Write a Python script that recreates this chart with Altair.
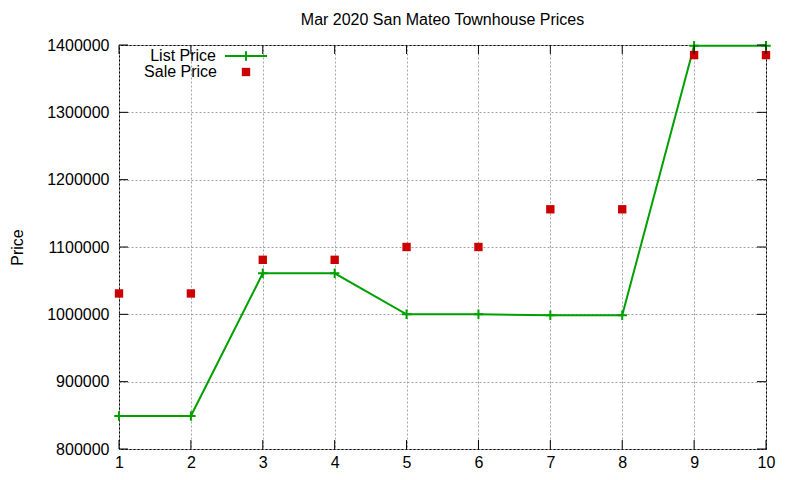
import altair as alt
import pandas as pd

# Townhouse prices, March 2020, San Mateo
idx = [1, 2, 3, 4, 5, 6, 7, 8, 9, 10]
list_price = [849000, 849000, 1061000, 1061000, 1000000, 1000000, 998500, 998500, 1399000, 1399000]
sale_price = [1031000, 1031000, 1081000, 1081000, 1100000, 1100000, 1156000, 1156000, 1385000, 1385000]

x_ticks = [1, 2, 3, 4, 5, 6, 7, 8, 9, 10]
y_ticks = [800000, 900000, 1000000, 1100000, 1200000, 1300000, 1400000]

legend_names = ['List Price', 'Sale Price']

GREEN = '#00a000'
RED = '#cc0000'
FONT = 'Liberation Sans'
W, H = 647, 404

df = pd.DataFrame({'n': idx, 'list': list_price, 'sale': sale_price})
xt = pd.DataFrame({'t': x_ticks})
yt = pd.DataFrame({'t': y_ticks})

xs = alt.Scale(domain=[1, 10], nice=False, zero=False)
ys = alt.Scale(domain=[800000, 1400000], nice=False, zero=False)

base = alt.Chart(df)

line = base.mark_line(color=GREEN, strokeWidth=2).encode(
    x=alt.X('n:Q', scale=xs,
            axis=alt.Axis(title=None, values=x_ticks, format='d', grid=True,
                          ticks=False, labelPadding=5, labelFlush=False)),
    y=alt.Y('list:Q', scale=ys,
            axis=alt.Axis(title='Price', values=y_ticks, format='d', grid=True,
                          ticks=False, labelPadding=10, labelFlush=False,
                          titleAngle=-90, titleX=-102, titleY=H / 2,
                          titleAlign='center', titleBaseline='middle')),
)

plus = base.mark_point(shape='M-1,0L1,0M0,-1L0,1', size=90, filled=False,
                       color=GREEN, strokeWidth=2, opacity=1).encode(
    x=alt.X('n:Q', scale=xs),
    y=alt.Y('list:Q', scale=ys),
)

squares = base.mark_square(size=70, color=RED, opacity=1).encode(
    x=alt.X('n:Q', scale=xs),
    y=alt.Y('sale:Q', scale=ys),
)

# inward ticks on all four sides, gnuplot style
xb = alt.Chart(xt).mark_rule(color='black').encode(
    x=alt.X('t:Q', scale=xs), y=alt.value(H), y2=alt.value(H - 9))
xtop = alt.Chart(xt).mark_rule(color='black').encode(
    x=alt.X('t:Q', scale=xs), y=alt.value(0), y2=alt.value(9))
yl = alt.Chart(yt).mark_rule(color='black').encode(
    y=alt.Y('t:Q', scale=ys), x=alt.value(0), x2=alt.value(9))
yr = alt.Chart(yt).mark_rule(color='black').encode(
    y=alt.Y('t:Q', scale=ys), x=alt.value(W), x2=alt.value(W - 9))

# key in the top left corner
leg = pd.DataFrame({'name': legend_names})
key_text1 = alt.Chart(leg.iloc[:1]).mark_text(
    align='right', baseline='middle', font=FONT, fontSize=16, color='black'
).encode(text='name:N', x=alt.value(97), y=alt.value(11))
key_text2 = alt.Chart(leg.iloc[1:]).mark_text(
    align='right', baseline='middle', font=FONT, fontSize=16, color='black'
).encode(text='name:N', x=alt.value(98), y=alt.value(27))
key_line = alt.Chart(leg.iloc[:1]).mark_rule(color=GREEN, strokeWidth=2).encode(
    x=alt.value(106), x2=alt.value(148), y=alt.value(11))
key_plus = alt.Chart(leg.iloc[:1]).mark_point(shape='M-1,0L1,0M0,-1L0,1', size=90,
                                              filled=False, color=GREEN,
                                              strokeWidth=2, opacity=1).encode(
    x=alt.value(127), y=alt.value(11))
key_sq = alt.Chart(leg.iloc[1:]).mark_square(size=70, color=RED, opacity=1).encode(
    x=alt.value(127), y=alt.value(27))

chart = alt.layer(
    line, plus, squares, xb, xtop, yl, yr,
    key_text1, key_text2, key_line, key_plus, key_sq
).properties(
    width=W,
    height=H,
    background='white',
    autosize=alt.AutoSizeParams(type='none'),
    padding={'left': 111, 'top': 37, 'right': 26, 'bottom': 23},
    title=alt.TitleParams('Mar 2020 San Mateo Townhouse Prices', font=FONT,
                          fontSize=16, fontWeight='normal', color='black',
                          anchor='middle', offset=9),
).configure_view(
    stroke='black', strokeWidth=1
).configure_axis(
    labelFont=FONT, labelFontSize=16, labelColor='black',
    titleFont=FONT, titleFontSize=16, titleFontWeight='normal', titleColor='black',
    domain=False, gridColor='#a0a0a0', gridDash=[2, 2], gridOpacity=1,
    gridWidth=1
)

chart.save('out.html', embed_options={'renderer': 'svg', 'actions': False})
